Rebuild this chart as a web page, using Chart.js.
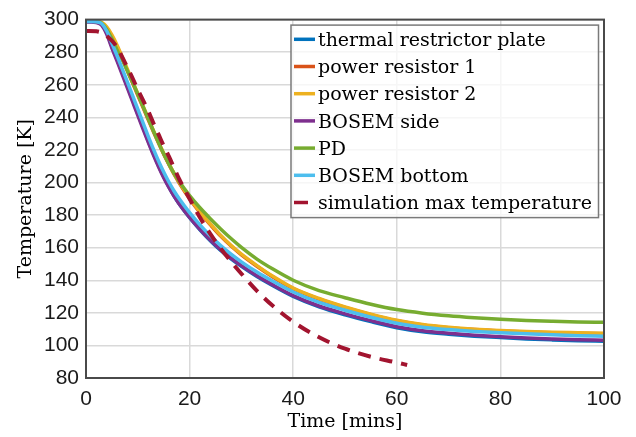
<!DOCTYPE html>
<html>
<head>
<meta charset="utf-8">
<script src="https://cdn.jsdelivr.net/npm/chart.js@4.4.0/dist/chart.umd.min.js"></script>
<style>
  html, body { margin: 0; padding: 0; background: #ffffff; }
  #c { display: block; }
</style>
</head>
<body>
<canvas id="c" width="636" height="437"></canvas>
<script>
// ---- data ----
const times = [0,1,2,3,4,5,6,7,8,9,10,11,12,13,14,15,16,17,18,20,22,24,26,28,30,33,36,40,45,50,55,60,65,70,75,80,85,90,95,100];

const thermalRestrictorPlate = [298.8,298.8,298.5,297.2,292,283.5,275.5,267.3,259,250.6,242.2,233.8,225.6,217.7,210.3,203.5,197.3,191.7,186.8,178.4,171,164.3,158.3,153.1,148.5,142.3,136.8,130.1,123.7,118.8,114.6,110.9,108.4,106.9,105.7,104.8,104,103.4,102.9,102.6];
const powerResistor1 = [299,299,298.9,298,294.8,289.6,283.3,276,268.5,261,253.6,246.1,238.7,231.3,224.2,217.4,211.1,205.1,199.7,190,181.5,174.1,167.1,161,155.6,148.6,142.2,134.9,128.5,123.3,118.9,115.2,112.6,110.9,109.7,108.9,108.3,107.8,107.5,107.2];
const powerResistor2 = [299,299,299,298.4,295.6,290.6,284.3,277,269.5,262,254.5,247,239.5,232,224.8,218,211.6,205.6,200.2,190.5,182,174.6,167.6,161.4,156,149,142.6,135.2,128.8,123.6,119.2,115.5,112.9,111.2,110,109.2,108.6,108.1,107.8,107.5];
const bosemSide = [298.5,298.5,298.2,296.6,291,282.5,274.5,266.3,258,249.6,241.2,232.9,224.8,217,209.7,203,197,191.6,186.8,178.6,171.3,164.7,158.8,153.6,149,142.8,137.3,130.6,124.2,119.4,115.2,111.5,109,107.5,106.3,105.4,104.6,104,103.5,103.2];
const pd = [299,299,298.8,297.8,294,288.3,281.4,275.3,268.5,261.5,254.3,246.8,239.3,231.8,224.5,217.6,211.3,205.6,200.6,192,184.5,177.8,171.5,165.6,160.2,153,147,140,133.6,129.3,125.3,122,119.8,118.2,117,116,115.3,114.8,114.4,114.2];
const bosemBottom = [298.8,298.8,298.6,297.6,293,285.5,277.8,269.8,261.6,253.3,245,236.7,228.5,220.6,213.2,206.4,200.3,194.8,190,181.5,174,167.3,161.3,156,151.3,145,139.5,132.8,126.4,121.6,117.3,113.6,111.2,109.7,108.6,107.8,107.1,106.5,106,105.7];

const simTimes = [0,2,3,4,5,6,7,8,9,10,11,12,13,14,15,16,17,18,20,22,24,26,28,30,33,36,40,45,50,55,60,62];
const simMaxTemperature = [293,292.8,292,290,287,283,277,270.5,264,257,250.5,244,236.5,229.5,222.5,216,209,202,190,178.5,168.5,159.5,151.5,144,133.5,124.5,114.5,105,98,93,89.5,88];

const seriesLabels = ['thermal restrictor plate','power resistor 1','power resistor 2','BOSEM side','PD','BOSEM bottom','simulation max temperature'];
const seriesColors = ['#0072BD','#D95319','#EDB120','#7E2F8E','#77AC30','#4DBEEE','#A2142F'];
const xTicks = [0,20,40,60,80,100];
const yTicks = [80,100,120,140,160,180,200,220,240,260,280,300];

// ---- build datasets ----
function pts(xs, ys) { return xs.map((x, i) => ({ x: x, y: ys[i] })); }
const seriesData = [
  pts(times, thermalRestrictorPlate),
  pts(times, powerResistor1),
  pts(times, powerResistor2),
  pts(times, bosemSide),
  pts(times, pd),
  pts(times, bosemBottom),
  pts(simTimes, simMaxTemperature)
];
const datasets = seriesData.map((d, i) => ({
  label: seriesLabels[i],
  data: d,
  borderColor: seriesColors[i],
  backgroundColor: seriesColors[i],
  borderWidth: i === 6 ? 4 : 3.5,
  borderDash: i === 6 ? [13, 9] : [],
  pointRadius: 0,
  fill: false,
  cubicInterpolationMode: 'monotone',
  order: 10 - i
}));

const SERIF = '"DejaVu Serif", serif';
const SANS = '"Liberation Sans", Arial, sans-serif';

// frame + legend drawn inside the plot area
const framePlugin = {
  id: 'frameLegend',
  afterDatasetsDraw(chart) {
    const ctx = chart.ctx;
    const a = chart.chartArea;
    ctx.save();
    ctx.strokeStyle = '#4a4a4a';
    ctx.lineWidth = 2;
    ctx.strokeRect(a.left, a.top, a.right - a.left, a.bottom - a.top);

    // legend
    const bx = a.right - 313, by = a.top + 5.5, bw = 307.5, bh = 192.5;
    ctx.fillStyle = 'rgba(255,255,255,0.75)';
    ctx.fillRect(bx, by, bw, bh);
    ctx.strokeStyle = '#7a7a7a';
    ctx.lineWidth = 1.5;
    ctx.strokeRect(bx, by, bw, bh);
    ctx.font = '19px ' + SERIF;
    ctx.textBaseline = 'alphabetic';
    ctx.textAlign = 'left';
    for (let i = 0; i < seriesLabels.length; i++) {
      const cy = by + 14.2 + 27.2 * i;
      ctx.strokeStyle = seriesColors[i];
      ctx.lineWidth = 3.5;
      ctx.setLineDash([]);
      ctx.beginPath();
      ctx.moveTo(bx + 3, cy);
      ctx.lineTo(bx + (i === 6 ? 17 : 24), cy);
      ctx.stroke();
      ctx.fillStyle = '#000000';
      ctx.fillText(seriesLabels[i], bx + 27, cy + 6.6);
    }
    ctx.restore();
  }
};

new Chart(document.getElementById('c'), {
  type: 'line',
  data: { datasets: datasets },
  options: {
    responsive: false,
    animation: false,
    events: [],
    layout: { padding: { left: 0, right: 32, top: 17, bottom: 0 } },
    plugins: {
      legend: { display: false },
      tooltip: { enabled: false },
      title: { display: false }
    },
    scales: {
      x: {
        type: 'linear',
        min: 0, max: 100,
        afterFit: (s) => { s.height = 59; },
        afterBuildTicks: (s) => { s.ticks = xTicks.map(v => ({ value: v })); },
        ticks: { font: { family: SANS, size: 21 }, color: '#1a1a1a', padding: 9, maxRotation: 0 },
        grid: { color: '#d9d9d9', lineWidth: 1.5, drawTicks: false },
        border: { display: false },
        title: { display: true, text: 'Time [mins]', font: { family: SERIF, size: 19 }, color: '#000', padding: { top: 0, bottom: 4 } }
      },
      y: {
        type: 'linear',
        min: 80, max: 300,
        afterFit: (s) => { s.width = 86; },
        afterBuildTicks: (s) => { s.ticks = yTicks.map(v => ({ value: v })); },
        ticks: { font: { family: SANS, size: 21 }, color: '#1a1a1a', padding: 7 },
        grid: { color: '#d9d9d9', lineWidth: 1.5, drawTicks: false },
        border: { display: false },
        title: { display: true, text: 'Temperature [K]', font: { family: SERIF, size: 19 }, color: '#000', padding: { top: 15, bottom: 0 } }
      }
    }
  },
  plugins: [framePlugin]
});
</script>
</body>
</html>
